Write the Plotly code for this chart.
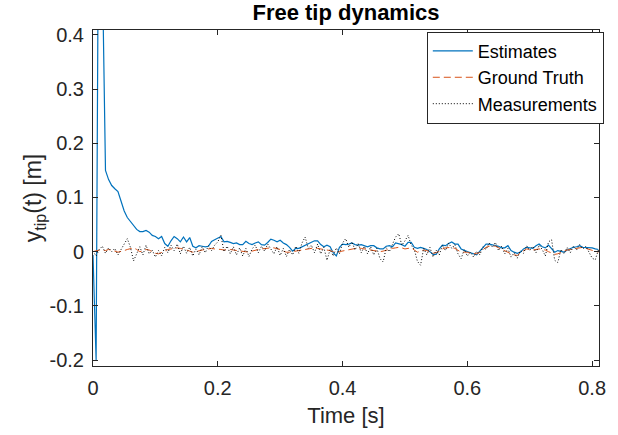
import plotly.graph_objects as go

# sample times [s] (uniform 5 ms grid)
DT = 0.005
N = 163
t = [round(i * DT, 3) for i in range(N)]

estimates = [
    -0.006, -0.200, 0.900, 0.500, 0.150, 0.133, 0.122, 0.116, 0.111, 0.093,
    0.075, 0.063, 0.056, 0.048, 0.041, 0.037, 0.037, 0.039, 0.036, 0.030,
    0.028, 0.024, 0.028, 0.015, 0.010, 0.020, 0.028, 0.024, 0.018, 0.027,
    0.018, 0.026, 0.010, 0.007, 0.011, 0.010, 0.009, 0.010, 0.019, 0.022,
    0.025, 0.028, 0.018, 0.019, 0.017, 0.015, 0.016, 0.013, 0.013, 0.019,
    0.015, 0.013, 0.016, 0.018, 0.013, 0.012, 0.017, 0.023, 0.021, 0.018,
    0.021, 0.016, 0.013, 0.008, 0.001, 0.006, 0.006, 0.009, 0.012, 0.014,
    0.017, 0.020, 0.020, 0.013, 0.009, 0.012, 0.009, -0.002, -0.008, 0.008,
    0.014, 0.013, 0.014, 0.016, 0.013, 0.012, 0.013, 0.011, 0.009, 0.011,
    0.011, 0.007, 0.005, 0.005, 0.010, 0.011, 0.009, 0.016, 0.015, 0.013,
    0.010, 0.017, 0.017, 0.008, 0.006, 0.008, 0.006, 0.004, 0.000, -0.005,
    -0.005, 0.005, 0.012, 0.011, 0.015, 0.018, 0.014, 0.014, 0.005, 0.002,
    0.000, -0.002, -0.004, -0.006, 0.001, 0.007, 0.014, 0.014, 0.013, 0.012,
    0.010, 0.007, 0.007, 0.011, 0.002, -0.001, -0.003, -0.001, 0.005, 0.008,
    0.007, 0.006, 0.011, 0.014, 0.009, 0.007, 0.012, 0.005, -0.001, 0.002,
    0.001, -0.001, 0.003, 0.006, 0.008, 0.009, 0.011, 0.008, 0.008, 0.008,
    0.007, 0.005, 0.004,
]

ground_truth = [
    0.000, 0.002, 0.003, 0.003, 0.002, 0.004, 0.003, 0.001, -0.001, 0.000,
    0.002, 0.004, 0.006, 0.007, 0.004, 0.000, 0.001, 0.004, 0.003, 0.000,
    -0.003, -0.004, -0.002, 0.001, 0.004, 0.005, 0.006, 0.007, 0.006, 0.005,
    0.003, 0.001, -0.001, 0.000, 0.002, 0.003, 0.004, 0.005, 0.006, 0.005,
    0.005, 0.004, 0.003, 0.004, 0.004, 0.003, 0.002, 0.002, 0.000, -0.001,
    -0.001, 0.001, 0.003, 0.004, 0.005, 0.006, 0.006, 0.007, 0.007, 0.006,
    0.004, 0.001, -0.001, -0.001, 0.000, 0.001, 0.002, 0.003, 0.004, 0.005,
    0.006, 0.007, 0.006, 0.005, 0.004, 0.004, 0.002, 0.000, -0.001, 0.000,
    0.001, 0.003, 0.003, 0.004, 0.006, 0.007, 0.006, 0.005, 0.004, 0.003,
    0.002, 0.001, 0.000, 0.001, 0.003, 0.005, 0.006, 0.007, 0.008, 0.007,
    0.005, 0.006, 0.007, 0.003, -0.001, 0.001, 0.003, 0.002, 0.000, -0.003,
    -0.002, 0.002, 0.005, 0.007, 0.008, 0.008, 0.006, 0.002, -0.001, -0.001,
    -0.001, -0.003, -0.004, -0.004, -0.001, 0.003, 0.008, 0.010, 0.011, 0.010,
    0.007, 0.004, 0.002, -0.001, -0.004, -0.006, -0.007, -0.002, 0.002, 0.005,
    0.004, 0.003, 0.004, 0.005, 0.004, 0.003, 0.000, -0.003, -0.005, -0.004,
    -0.001, 0.001, 0.003, 0.004, 0.006, 0.007, 0.008, 0.008, 0.006, 0.004,
    0.002, 0.000, -0.001,
]

measurements = [
    0.001, -0.008, 0.004, 0.010, -0.003, 0.007, 0.000, 0.006, -0.006, 0.004,
    0.016, 0.024, 0.008, -0.017, -0.004, 0.009, -0.006, 0.012, -0.004, 0.003,
    -0.010, 0.002, -0.008, 0.008, -0.002, 0.012, 0.002, 0.014, -0.004, 0.010,
    -0.003, 0.008, -0.008, 0.005, -0.006, 0.009, -0.002, 0.011, 0.002, 0.012,
    0.018, 0.030, 0.000, 0.010, -0.004, 0.009, -0.006, 0.007, -0.008, 0.006,
    -0.009, 0.005, 0.012, -0.002, 0.010, 0.001, 0.014, 0.004, -0.004, 0.009,
    -0.007, 0.006, -0.009, 0.004, -0.006, 0.010, -0.003, 0.016, 0.027, 0.006,
    0.012, -0.002, 0.014, -0.004, 0.008, -0.016, 0.004, -0.008, 0.007, -0.004,
    0.016, 0.024, 0.008, 0.018, 0.003, 0.015, -0.002, 0.010, -0.004, 0.009,
    -0.006, 0.006, -0.013, -0.019, 0.007, 0.000, 0.015, 0.027, 0.033, 0.012,
    0.020, 0.030, 0.012, 0.004, -0.018, -0.025, 0.006, -0.006, 0.008, -0.010,
    0.003, -0.006, 0.012, 0.002, 0.016, 0.006, 0.013, -0.004, -0.013, 0.004,
    -0.008, -0.001, -0.010, 0.001, -0.006, 0.009, 0.004, 0.016, 0.008, 0.017,
    0.002, 0.010, -0.004, 0.006, -0.010, -0.002, -0.012, 0.002, -0.003, 0.011,
    0.002, 0.010, -0.002, 0.012, 0.004, -0.008, 0.018, 0.022, -0.016, -0.020,
    0.004, -0.004, 0.008, -0.002, 0.010, 0.003, 0.013, 0.005, 0.010, -0.002,
    -0.012, -0.015, 0.003,
]

x_ticks = [0, 0.2, 0.4, 0.6, 0.8]
x_tick_labels = ["0", "0.2", "0.4", "0.6", "0.8"]
y_ticks = [-0.2, -0.1, 0, 0.1, 0.2, 0.3, 0.4]
y_tick_labels = ["-0.2", "-0.1", "0", "0.1", "0.2", "0.3", "0.4"]

FONT = "Liberation Sans, Arial, Helvetica, sans-serif"
AX = "#262626"

fig = go.Figure()
fig.add_trace(go.Scatter(x=t, y=estimates, mode="lines", name="Estimates",
                         line=dict(color="#0072BD", width=1.2)))
fig.add_trace(go.Scatter(x=t, y=ground_truth, mode="lines", name="Ground Truth",
                         line=dict(color="#D95319", width=1, dash="7px,4px")))
fig.add_trace(go.Scatter(x=t, y=measurements, mode="lines", name="Measurements",
                         line=dict(color="#000000", width=1, dash="1px,2px")))

axis_common = dict(showline=True, linecolor=AX, linewidth=1, mirror="ticks",
                   ticks="inside", ticklen=5, tickcolor=AX, tickwidth=1,
                   showgrid=False, zeroline=False,
                   tickfont=dict(family=FONT, size=20, color=AX))

fig.update_xaxes(range=[0, 0.811], tickvals=x_ticks, ticktext=x_tick_labels,
                 ticklabelstandoff=4,
                 title=dict(text="Time [s]", font=dict(family=FONT, size=22, color=AX),
                            standoff=9),
                 **axis_common)
fig.update_yaxes(range=[-0.211, 0.409], tickvals=y_ticks, ticktext=y_tick_labels,
                 ticklabelstandoff=4,
                 title=dict(text="y<sub>tip</sub>(t) [m]",
                            font=dict(family=FONT, size=23, color=AX), standoff=1),
                 **axis_common)

fig.update_layout(
    width=618, height=435,
    margin=dict(l=93, r=15, t=30, b=69),
    paper_bgcolor="white", plot_bgcolor="white",
    title=dict(text="<b>Free tip dynamics</b>", x=0.5, xref="paper",
               y=1 - 12 / 435, yref="container", yanchor="middle", xanchor="center",
               font=dict(family=FONT, size=22, color="black")),
    legend=dict(x=1.0095, y=0.995, xanchor="right", yanchor="top",
                bgcolor="white", bordercolor=AX, borderwidth=1,
                font=dict(family=FONT, size=18, color="black"),
                itemwidth=40, tracegroupgap=0),
    showlegend=True,
)

fig.write_html("out.html")
